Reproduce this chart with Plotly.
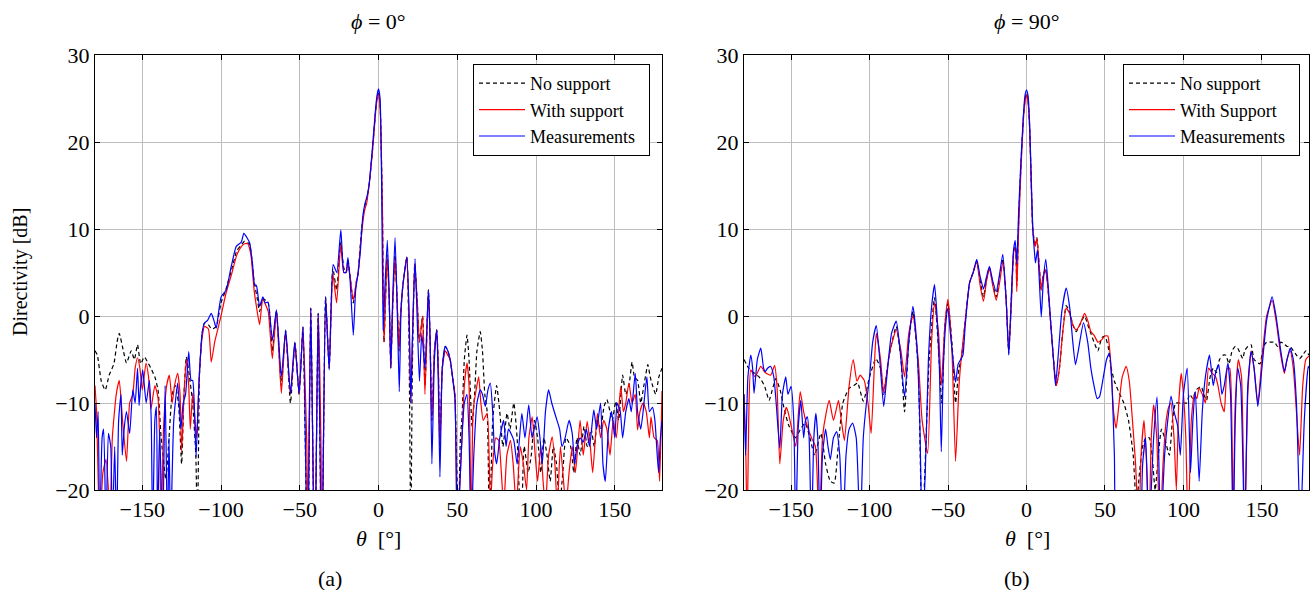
import plotly.graph_objects as go

# ---------------- data (theta [deg], directivity [dB]) ----------------
# phi = 0 deg panel
a_nosupport = [(-180,-4),(-178.5,-4.5),(-176,-7.5),(-173.5,-8.5),(-171,-6.8),(-168,-5.5),(-166,-3),(-164.6,-2),(-162,-4),(-160,-5.4),(-157,-4),(-155,-5),(-153,-3.3),(-151,-5.5),(-148.7,-4.7),(-146,-5.5),(-144.5,-6),(-142,-7),(-140,-8.5),(-138,-14),(-135,-18.8),(-133,-14),(-131,-9),(-129,-8),(-127,-10),(-125,-17),(-123.5,-9),(-122,-4.7),(-120,-7),(-118,-10),(-116,-16),(-115,-25),(-114.2,-14),(-113.7,-7),(-112,-2),(-110.5,-0.8),(-108,-1),(-106,-1.5),(-104.5,-1.4),(-103,-1.2),(-100,1.5),(-97,3),(-93,5.5),(-90,7.5),(-87,8.2),(-85,8.6),(-82,8.3),(-79,4),(-77,2),(-75.5,0.5),(-73.4,2),(-70,1.5),(-67.4,-4),(-64.8,0.6),(-61.7,-8),(-59,-1.7),(-55.9,-10),(-53,-3.1),(-50.4,-9),(-48,-1.3),(-45,-30),(-43,0.9),(-40.5,-30),(-38.3,0.3),(-36,-30),(-33.6,2.2),(-31.3,-6),(-29,5.5),(-26.6,3),(-24,8.5),(-22,5.5),(-20.5,5),(-19.4,6.5),(-18,4.5),(-16,1.5),(-14,4),(-13,4.9),(-11,9.5),(-9,12.5),(-7.5,13.3),(-6,15),(-4,18.7),(-2,23.2),(-1,25),(0,25.6),(1,24.3),(2.5,12),(3.5,-3),(5.5,7),(6.8,2),(7.8,-6),(9,1),(10.5,7),(11.8,2),(13,-4),(14,0),(15.2,3),(16.5,5),(18,6.8),(19.3,-2),(20.5,-25),(21.5,-6),(23,6),(24.5,2),(26,-3),(28,0),(29.5,-8),(31.7,3),(32.8,-3),(33.9,-12),(35.5,-4),(37,-1.6),(38,-6),(39,-15),(40.5,-6),(42.4,-3.5),(44,-4),(45.5,-5),(47,-7),(48.5,-9),(50.7,-25),(52,-14),(53,-11.7),(54.5,-5),(56.2,-2.2),(57.5,-5),(59.4,-12.7),(61,-9),(62.5,-4),(64.6,-1.8),(66,-4),(67.5,-9),(69,-11),(70.5,-25),(72.5,-12),(75,-8),(77,-11),(79,-15),(81.6,-11.2),(83.5,-13),(85.9,-10),(88,-14),(90.5,-25),(92.5,-15),(95,-18),(97,-16),(99,-12),(101,-14),(103,-18),(105,-14),(107,-16),(109,-19),(111,-15),(113,-17),(115,-22),(117,-18),(119,-14),(122,-15),(124,-18),(126,-14),(128,-16),(130.5,-12.7),(132.5,-15),(135,-13),(137,-15),(139,-12),(141,-13),(143.2,-10.4),(145,-9.6),(147,-11),(148.5,-12),(150.6,-9.8),(152.5,-12),(155,-6.8),(157,-9),(159,-8),(161,-5.3),(162.5,-7),(164.5,-7.4),(166.5,-10),(168.5,-8),(171,-5.6),(172.5,-7),(174,-8),(176,-9),(178,-7),(180,-6)]

a_support = [(-180,-8),(-179,-11),(-177,-25),(-175,-18),(-173,-16.5),(-171.5,-20),(-170.6,-25),(-169,-14),(-166.5,-9),(-164.6,-7.4),(-162.5,-12),(-160,-16.7),(-158,-10),(-156,-9),(-154.5,-6),(-153,-4.8),(-151.5,-6),(-150,-8.5),(-147.6,-5.4),(-146,-7),(-144.5,-10.7),(-142,-8),(-140,-9.4),(-139,-14),(-138,-25),(-136.5,-13),(-134.5,-8),(-132.8,-6.8),(-131,-10),(-129.5,-8),(-127.5,-6.6),(-126,-9),(-125,-15.6),(-123.5,-9),(-122,-5),(-120.5,-8),(-119.5,-13),(-118,-8.9),(-116.5,-12),(-115.5,-14),(-113.7,-6.6),(-112,-2.5),(-110.5,-1.2),(-108,-1.5),(-106.2,-5.3),(-104,-3),(-102,-1.5),(-100,0),(-97,2.5),(-93,5),(-90,7),(-87,8),(-85,8.3),(-83,8.3),(-81,7),(-79,3),(-77,0.5),(-75.5,-1.0),(-73.5,2),(-71.5,1.2),(-70,0.5),(-67.4,-4.9),(-64.8,0.5),(-61.7,-8.9),(-59,-1.8),(-55.9,-9),(-53,-3.2),(-50.4,-9),(-48,-1.5),(-45.5,-15),(-45,-25),(-43,0.8),(-40.5,-30),(-38.3,0.2),(-36.5,-15),(-36,-30),(-33.6,2),(-31.3,-6),(-29,4.9),(-26.6,1.5),(-24,8.2),(-22,5),(-20.5,5),(-19.4,6),(-18,4.5),(-16,1.8),(-14,4),(-13,4.8),(-11,9),(-9,12),(-7.5,13),(-6,15),(-4,18.5),(-2,23),(-1,24.8),(0,25.4),(1,24),(2.5,12),(3.5,-3),(5.5,6.7),(6.8,2),(7.8,-6),(9,1),(10.5,6.7),(11.8,2),(13,-3.9),(14,0),(15.2,3),(16.5,5),(18,6.8),(19.3,0),(20.5,-10),(21.5,-3),(23,6),(24.5,2),(26,-3),(28,0),(29.5,-9),(31.7,3),(32.8,-3),(33.9,-12),(35.5,-4),(37,-1.6),(38,-6),(39,-15),(40.5,-6),(42.4,-4),(44,-4.5),(45.5,-5),(47,-7),(48.5,-9),(50,-25),(51.5,-20),(53,-14),(54.5,-8),(56.2,-5.4),(57.5,-8),(58.8,-25),(59.8,-12),(60.4,-10.4),(62,-8.5),(63.6,-7),(65,-10),(66.5,-12),(69,-11.2),(71,-22),(72.5,-17),(74.5,-14),(76.3,-14.3),(78,-18),(79.5,-22),(81.5,-16),(83.8,-14.3),(85.5,-17),(87.5,-22),(90,-15),(92,-17),(94,-20),(95.5,-14),(97.6,-11.6),(99.5,-16),(101,-19),(103,-15),(104.5,-19),(106,-22),(108,-16),(110.3,-13.9),(112,-17),(113.5,-22),(115.5,-15),(117.5,-19),(119,-22),(121,-18),(123,-15),(125,-18),(128,-12),(130,-16),(132.5,-12.1),(134.5,-15),(136,-18),(139,-11.2),(141,-14),(143,-12),(145,-13),(147,-16),(149,-12),(151,-14),(153.8,-8.1),(155.5,-11),(157,-10),(159,-7.7),(161,-10),(163,-9),(164.5,-13.1),(166,-11),(168,-10),(170,-11),(172,-14),(173,-11.6),(175,-14),(177,-14.3),(178.5,-19),(180,-8.6)]

a_measured = [(-180,-10),(-179,-14),(-178,-11),(-177,-25),(-175.5,-14),(-174.5,-13),(-173,-25),(-171.5,-13.5),(-170,-15),(-169,-25),(-167.5,-15),(-166.3,-25),(-165,-12),(-163.5,-9),(-162.7,-16),(-161.5,-13),(-160,-11),(-158,-13.5),(-156,-8.5),(-154.5,-10),(-153,-6),(-152,-10.3),(-151,-8),(-149.7,-6.2),(-147.5,-10),(-145.5,-7.4),(-144.3,-12),(-143.4,-25),(-142,-12),(-141,-10.4),(-140.3,-25),(-139,-13),(-137,-25),(-135.5,-8),(-134,-25),(-133,-14),(-132,-25),(-130,-12),(-127.5,-7.7),(-125.5,-13),(-124,-10),(-122.5,-9),(-120.5,-4.1),(-119,-7.4),(-118,-7.4),(-117,-10),(-115.8,-16.2),(-114.5,-10),(-113.7,-6.6),(-112,-2),(-110.5,-0.8),(-108.5,-0.5),(-106.2,0.3),(-104.5,-0.5),(-103,-1.4),(-101.5,0.5),(-99.9,2.2),(-96.7,3),(-93.5,5.7),(-90.3,8),(-87.1,8.5),(-85.5,9.5),(-83.5,9),(-81.8,8.4),(-80,6),(-78.7,3.6),(-77.5,3.5),(-75.5,1.1),(-73.4,2.2),(-72,1.5),(-70.2,1.6),(-67.4,-2.8),(-64.8,0.7),(-61.7,-7),(-58.9,-1.6),(-55.9,-8.9),(-53.2,-3),(-50.4,-8.9),(-47.9,-1.2),(-45,-30),(-43,0.9),(-40.5,-30),(-38.3,0.3),(-36,-30),(-33.6,2.2),(-31.3,-6.2),(-28.8,5.9),(-26.5,5),(-23.9,9.9),(-22,5),(-20.7,5),(-19.4,6.7),(-18,4),(-16,-2.2),(-14.5,3),(-13,4.9),(-11.5,7.5),(-10,11.4),(-8.5,13),(-7.5,13.6),(-6,15),(-4,19),(-2,23.5),(-1,25.3),(0,26.1),(1,25),(2,15),(3,-1.6),(4,3),(5.6,8.7),(6.7,3),(7.8,-6),(9,2),(10.5,9),(12,0),(13.2,-8.7),(14.2,0),(15.2,3),(16.5,5),(18,6.8),(19.5,0),(20.5,-10),(21.5,-3),(23.2,6.6),(24.5,0),(26,-7.5),(27.5,-2),(29.5,-6),(31.7,3),(32.8,-3),(33.9,-17),(35.5,-5),(37,-1.6),(38,-8),(39,-18.5),(40.5,-6),(42.4,-3.5),(44,-4),(45.5,-5),(47,-7),(48.6,-9.7),(50,-25),(51.5,-20),(53,-14),(54.5,-10),(56.2,-9),(57.5,-14),(58.8,-25),(60.5,-16),(62.5,-10),(64.6,-8.5),(66,-9),(67.8,-10.4),(69.5,-8.5),(71,-7.7),(72.5,-11),(73.6,-15.4),(75,-17),(77,-14),(79.5,-12),(81,-15),(82.5,-13),(85.9,-14.3),(88,-17),(91,-11.2),(93,-14),(95.4,-10.2),(97.5,-14),(100.7,-11.6),(102.5,-14),(104,-17),(106,-11),(108,-8.5),(110,-10),(112.8,-11.7),(115,-13),(116.5,-15),(118.5,-14),(121,-12),(123,-13.5),(124.5,-17),(126,-15),(128,-14),(130,-14.5),(132,-13),(134,-15),(136.7,-10.8),(138.5,-13),(141,-10),(142.5,-17),(144,-19),(146,-13),(148,-11),(150,-14),(151.5,-10),(153.5,-11),(155,-14),(157,-11),(159,-9.5),(160.5,-11),(163,-6.6),(164.5,-11),(166.5,-13),(168,-11),(170.4,-7),(172,-11),(174,-10.5),(175.5,-12),(177.8,-18),(179,-14),(180,-12)]

# phi = 90 deg panel
b_nosupport = [(-180,-5),(-177,-6),(-174,-6.5),(-170.4,-7),(-167,-8),(-164,-9.7),(-162,-8.5),(-159.7,-7.2),(-157,-8.5),(-154,-11),(-151.2,-12.7),(-147,-14),(-144,-13),(-141,-12.3),(-138,-14),(-135,-16),(-131,-13.5),(-128,-17),(-125,-19),(-122.5,-19.2),(-120,-15),(-117,-10),(-113,-8.3),(-110,-8),(-107.6,-7.7),(-104,-9.8),(-100,-7),(-96,-4.9),(-93,-6),(-91,-9),(-88,-5),(-83,-1.2),(-80,-5),(-77.7,-11),(-75,-3),(-72.4,0.5),(-69,-6),(-66.5,-25),(-62,-5),(-58.6,2.1),(-56,-4),(-54,-10),(-52,-1),(-50.1,1.5),(-47.5,-3),(-45.2,-10),(-43,-6),(-41.6,-5),(-39,-0.5),(-36.3,3.8),(-34,5),(-31.7,6.3),(-29.5,4),(-27.4,2.2),(-25.5,4.2),(-23.6,5.6),(-21.5,3.7),(-19.3,2.2),(-17,4.5),(-15.1,6.6),(-13,2),(-11.3,-4.3),(-9.5,2.5),(-8,7.6),(-7,8),(-6.2,3.5),(-5,11),(-3.5,17.5),(-2,22.7),(-1,24.8),(0,25.6),(1,24.8),(2,21.7),(3,15.5),(4,10),(5.5,8),(6.6,9),(8,6),(9.4,3),(10.5,4.5),(12.1,5.5),(13.5,3.5),(15.5,-1),(17.2,-5),(19,-8),(21,-6),(23,-2),(25.3,1.2),(27.5,0.5),(29.5,-1),(31.7,-1.8),(34,-1),(37,0),(39,-1),(41,-2),(43,-3),(45.5,-4),(48,-2.5),(50,-2.3),(52,-3.5),(54,-6),(56,-7.5),(59.2,-8.9),(62,-10),(65,-12),(68,-16),(70,-22),(72,-18),(74,-15),(76,-14),(78.3,-14),(80,-16),(82,-20),(84,-16),(86,-13),(88,-14),(91,-16),(93,-12),(95,-10),(97.6,-10),(100,-10),(102,-10),(104,-9),(106,-9.5),(108,-8.5),(111.3,-8.1),(113,-9),(114.7,-9.7),(117,-7),(119,-6),(121,-6.5),(123,-5),(125.3,-4.5),(127,-4.5),(129,-5.5),(131,-4),(133,-3.5),(134.6,-3.7),(137.8,-4.9),(139,-4),(141,-3.5),(143.1,-3.3),(145,-5),(148.7,-5.5),(151,-3.5),(153,-3),(156,-3),(158,-3),(160,-3.5),(162,-3),(164,-3.2),(166,-3.5),(168,-3.5),(170,-4),(172,-4.5),(174,-4.9),(176,-4.5),(178,-4),(180,-4.5)]

b_support = [(-180,-9),(-179,-14),(-178,-25),(-177,-12),(-175.7,-6.2),(-173,-7),(-169.3,-5.8),(-166.5,-6.5),(-163,-6.8),(-160.5,-5.7),(-159,-8),(-157.2,-17),(-155,-12),(-153,-10.5),(-151.7,-11.2),(-149.5,-13),(-147,-15),(-144.2,-8.7),(-142,-11),(-140,-12.5),(-137,-14),(-134.5,-15),(-132,-25),(-130,-14),(-127.5,-11),(-125.7,-9.7),(-123,-12),(-119.8,-9.7),(-118,-12),(-116,-14.3),(-113,-8),(-110.4,-5),(-108,-7.5),(-106,-6.8),(-103.4,-7.4),(-101,-10),(-99,-13.5),(-97,-6),(-95.7,-2),(-93,-5),(-91,-8.8),(-87,-4),(-83,-1.6),(-80,-4),(-77.7,-7),(-75,-2),(-72.4,0),(-69,-5),(-66.5,-12),(-63,-15.8),(-60.5,-3),(-58.6,1.5),(-56,-2),(-54.3,-8),(-52,-1),(-50.1,1.9),(-47.5,-4),(-45.2,-16.7),(-43,-8),(-41.6,-4.9),(-39,-0.5),(-36.3,3.8),(-34,5),(-31.7,6.2),(-29.5,3.5),(-27.4,1.7),(-25.5,4),(-23.6,5.5),(-21.5,3.5),(-19.3,1.8),(-17,4),(-15.1,6.2),(-13,2),(-11.3,-4),(-9.5,2),(-8,7.5),(-7,7.8),(-6.2,2.8),(-5,10),(-3.5,17),(-2,22.5),(-1,24.5),(0,25.4),(1,24.5),(2,21.5),(3,15),(4,10),(5.5,8),(6.6,8.9),(8,6),(9.4,3),(10.5,4.5),(12.1,5.3),(13.5,3.5),(15.5,-1),(17.2,-5),(19,-8),(21,-6),(23,-2),(25.3,0.9),(27.5,0.3),(29.5,-1),(31.7,-1.6),(34,-1),(37,0.3),(39,-0.5),(41,-1.8),(43,-2.2),(45.5,-3),(47.5,-2.8),(50,-2.3),(51.8,-2.3),(53.5,-5),(55.5,-11),(57.1,-12.9),(59,-10),(61,-7),(63.5,-5.8),(65.5,-7.5),(67.5,-12),(69.5,-17),(71.5,-25),(73,-16),(74.9,-12),(76.5,-17),(78,-25),(79.5,-14),(81,-10.2),(83,-14),(85,-25),(87,-17),(89,-12),(90.5,-10.5),(92,-10),(94,-14),(95.5,-20),(97,-10),(98.6,-6.6),(100,-9),(101.5,-14),(103,-25),(105,-12),(107,-9),(108.5,-9.5),(110,-8.3),(112,-9),(114,-10),(116,-6),(118,-6.5),(120.5,-7),(122,-8),(124,-10),(126,-11),(128,-6),(129.5,-6),(131.5,-25),(133,-10),(135,-5),(137,-7),(139,-25),(141,-9),(143.1,-4),(145,-6),(147.4,-10),(150,-5),(153,0),(156.5,1.8),(159,-0.5),(162,-4.5),(164.3,-6.6),(166,-5),(168,-4),(170,-6),(172,-11),(174,-16),(176,-8),(178,-5),(180,-4.6)]

b_measured = [(-180,-9),(-179,-16),(-177.5,-7),(-175.7,-4.5),(-174.5,-6),(-173.6,-8.9),(-171.5,-5),(-169.3,-3.7),(-167.5,-6),(-166.5,-6.4),(-165,-6),(-163,-5.8),(-161,-7),(-159.5,-10),(-157.2,-15.2),(-155.5,-9),(-153.4,-7),(-152,-9),(-150,-8.1),(-148.3,-12),(-147,-25),(-145.5,-13),(-143.8,-9.7),(-142,-14),(-140.8,-12),(-139.6,-11.6),(-138.5,-14),(-137,-25),(-135.5,-14),(-134.2,-11.2),(-133,-14),(-131.5,-25),(-130,-16),(-128,-13),(-126.5,-15),(-125,-16.5),(-123,-14),(-121,-13.3),(-119,-16),(-117,-25),(-115,-16),(-113,-13),(-110.8,-12.3),(-108.5,-14),(-106,-25),(-104,-14),(-102,-10),(-100,-7),(-98,-3),(-95.7,-1.1),(-93.5,-5),(-91,-10.4),(-89,-7),(-86,-2),(-83,-0.6),(-80.5,-4),(-77.7,-9.3),(-75,-3),(-72.4,1.1),(-70,-3),(-68,-12),(-66.5,-25),(-64.5,-18),(-62.5,-5),(-60.5,1),(-58.6,3.6),(-57,0),(-55.5,-6),(-54.3,-15.6),(-53,-6),(-51.5,-1),(-50.1,0.9),(-48.5,-2),(-46.5,-5.5),(-45.2,-7.6),(-43.5,-5.5),(-41.6,-4.9),(-40.5,-4.5),(-39,-1),(-36.3,3.8),(-34,5),(-31.7,6.5),(-29.5,4.5),(-27.4,3.1),(-25.5,4.5),(-23.6,5.7),(-21.5,4),(-19.3,2.8),(-17,5),(-15.1,7.1),(-13,2),(-11.3,-4.5),(-9.5,3),(-8.3,7.5),(-7.2,8.7),(-6.2,6),(-5,12),(-3.5,18),(-2,23),(-1,25.3),(0,26),(1,25.3),(2,22),(3,16),(4,10),(5,7.5),(5.7,6.1),(7,7.6),(8.2,4),(9.4,-0.1),(10.7,4),(12.3,6.5),(13.8,3.5),(15.5,-1),(17.2,-5),(18.5,-8),(20,-5),(22.5,0.5),(25.3,3.2),(27.5,1),(29.5,-3),(31.2,-5.6),(33,-4),(36.3,-0.8),(39,-3),(41,-6),(43,-8),(45,-9.5),(46.5,-9.3),(49,-7),(51,-5),(52.9,-4.3),(54.5,-8),(56,-16),(57.5,-25),(60,-25),(62,-22),(64,-25),(70,-25),(72,-25),(74,-17),(75.9,-14),(78,-25),(81,-14),(83.2,-9.3),(85.5,-25),(88,-16),(90,-12),(92.1,-9.2),(94,-11),(96.4,-12.7),(98,-16),(100,-9),(102.4,-6),(104.5,-18),(106,-12),(107.6,-8.7),(110,-19),(112,-11),(114,-7),(116.6,-4.5),(119,-8),(120.5,-6.5),(122.5,-5.6),(124.5,-9),(126,-8),(128.3,-5.4),(130,-9),(131.7,-25),(133,-12),(134.6,-6),(136.5,-8),(139,-25),(141,-8),(143.1,-4.1),(145,-6),(147.4,-10.4),(150,-6),(153,-0.5),(156.5,2.2),(159,0),(162,-4),(164.3,-6.4),(166,-5),(168,-3.7),(170,-5),(172,-10),(174.5,-25),(177,-12),(179.5,-5.8),(180,-6)]

legend_a = ["No support", "With support", "Measurements"]
legend_b = ["No support", "With Support", "Measurements"]
x_ticks = [-150, -100, -50, 0, 50, 100, 150]
y_ticks = [-20, -10, 0, 10, 20, 30]

# ---------------- figure ----------------
W, H = 1313, 590
SERIF = "Liberation Serif, Times New Roman, serif"
colors = ["black", "#ff0000", "#0000ff"]
dashes = ["4px,3px", "solid", "solid"]
PAD = "\u00a0\u00a0"

fig = go.Figure()

def add(series, names, xa, ya, leg):
    for s, name, c, d in zip(series, names, colors, dashes):
        xs = [p[0] for p in s]
        ys = [p[1] for p in s]
        fig.add_trace(go.Scatter(x=xs, y=ys, mode="lines", name=name + PAD,
                                 line=dict(color=c, width=1.2, dash=d, shape="spline", smoothing=0.5),
                                 xaxis=xa, yaxis=ya, legend=leg, showlegend=True))

add([a_nosupport, a_support, a_measured], legend_a, "x", "y", "legend")
add([b_nosupport, b_support, b_measured], legend_b, "x2", "y2", "legend2")

def px_x(p):
    return p / W

def px_y(p):
    return 1 - p / H

yd = [px_y(490), px_y(55)]
axis_common = dict(showline=True, linecolor="black", linewidth=1, mirror="ticks",
                   ticks="inside", ticklen=5, tickcolor="black",
                   showgrid=True, gridcolor="#bdbdbd", gridwidth=1,
                   zeroline=False, automargin=False,
                   tickfont=dict(family=SERIF, size=22, color="black"))

leg_common = dict(xanchor="right", yanchor="top", bgcolor="white", bordercolor="black",
                  borderwidth=1, itemwidth=46, font=dict(family=SERIF, size=18, color="black"))

fig.update_layout(
    width=W, height=H,
    margin=dict(l=0, r=0, t=0, b=0),
    paper_bgcolor="white", plot_bgcolor="white",
    xaxis=dict(domain=[px_x(95), px_x(662)], range=[-180, 180], tickvals=x_ticks, anchor="y", **axis_common),
    yaxis=dict(domain=yd, range=[-20, 30], tickvals=y_ticks, anchor="x", **axis_common),
    xaxis2=dict(domain=[px_x(744), px_x(1309)], range=[-180, 180], tickvals=x_ticks, anchor="y2", **axis_common),
    yaxis2=dict(domain=yd, range=[-20, 30], tickvals=y_ticks, anchor="x2", **axis_common),
    legend=dict(x=px_x(650), y=px_y(64), **leg_common),
    legend2=dict(x=px_x(1300), y=px_y(64), **leg_common),
)

ann_font = dict(family=SERIF, size=22, color="black")
annotations = [
    dict(text="<i>ϕ</i>\u2005=\u20050°", x=px_x(378), y=px_y(22)),
    dict(text="<i>ϕ</i>\u2005=\u200590°", x=px_x(1027), y=px_y(22)),
    dict(text="<i>θ</i>  [°]", x=px_x(378), y=px_y(538)),
    dict(text="<i>θ</i>  [°]", x=px_x(1027), y=px_y(538)),
    dict(text="(a)", x=px_x(330), y=px_y(578)),
    dict(text="(b)", x=px_x(1017), y=px_y(578)),
]
for a in annotations:
    fig.add_annotation(xref="paper", yref="paper", showarrow=False,
                       xanchor="center", yanchor="middle", font=ann_font, **a)
fig.add_annotation(text="Directivity [dB]", xref="paper", yref="paper", x=px_x(20), y=px_y(272),
                   showarrow=False, textangle=-90, xanchor="center", yanchor="middle",
                   font=dict(family=SERIF, size=20, color="black"))

fig.write_html("out.html", config={"displayModeBar": False},
               post_script="document.body.style.margin='0';document.body.style.padding='0';")
